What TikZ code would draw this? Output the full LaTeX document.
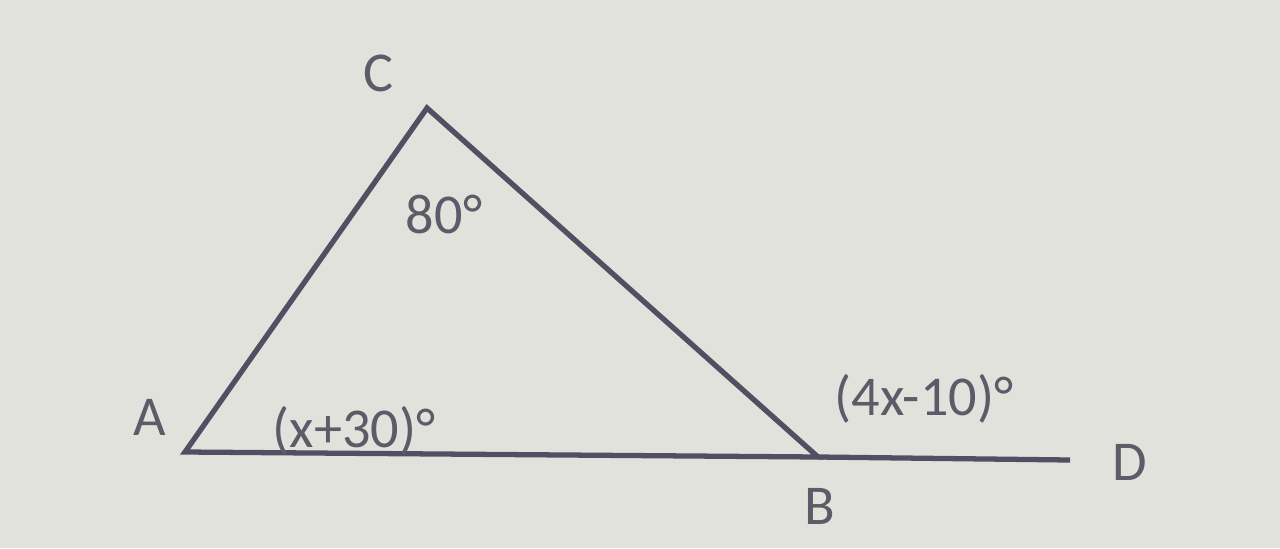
\documentclass[tikz,border=0pt]{standalone}
\usepackage{fontspec}
\setmainfont{Carlito}
\usepackage{xcolor}
\usetikzlibrary{positioning}
\definecolor{paper}{RGB}{226,226,221}
\definecolor{ink}{RGB}{80,80,98}
\definecolor{label}{RGB}{92,92,104}

\begin{document}
\begin{tikzpicture}[
lab/.style={font=\fontsize{16}{18}\selectfont, text=label, inner sep=1pt},
side/.style={ink, line width=1.5pt, line join=miter}
]
\fill[paper] (0,0) rectangle (12.8,5.48);
\useasboundingbox (0,0) rectangle (12.8,5.48);
% triangle corners
\coordinate (A) at (1.85,0.96);
\coordinate (C) at (4.27,4.40);
\coordinate (B) at (8.18,0.91);
\coordinate (D) at (10.70,0.88);
\draw[side] (B) -- (A) -- (C) -- cycle;
\draw[side] (B) -- (D);
% vertex names
\node[lab] (labC) at (3.78,4.75) {C};
\node[lab] (labA) at (1.50,1.31) {A};
\node[lab] (labB) at (8.20,0.42) {B};
\node[lab] (labD) at (11.30,0.86) {D};
% angle values
\node[lab] (angC) at (4.44,3.34) {80°};
\node[lab] (angA) at (3.54,1.17) {(x+30)°};
\node[lab] (angB) at (9.24,1.49) {(4x-10)°};
\end{tikzpicture}
\end{document}
